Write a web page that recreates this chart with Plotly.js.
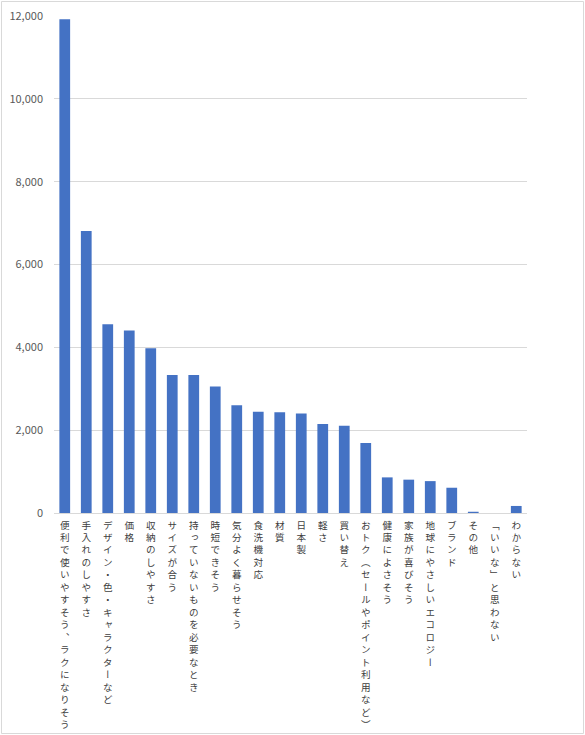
<!DOCTYPE html>
<html>
<head>
<meta charset="utf-8">
<script src="https://cdn.plot.ly/plotly-3.0.1.min.js"></script>
<style>
  body { margin: 0; background: #fff; }
  #myDiv { width: 585px; height: 735px; }
  /* vertical glyph forms for the upright labels */
  .xtick text { font-feature-settings: "vert" 1; }
</style>
</head>
<body>
<div id="myDiv"></div>
<script>
// categories, in chart order
const categories = [
  '便利で使いやすそう、ラクになりそう',
  '手入れのしやすさ',
  'デザイン・色・キャラクターなど',
  '価格',
  '収納のしやすさ',
  'サイズが合う',
  '持っていないものを必要なとき',
  '時短できそう',
  '気分よく暮らせそう',
  '食洗機対応',
  '材質',
  '日本製',
  '軽さ',
  '買い替え',
  'おトク（セールやポイント利用など）',
  '健康によさそう',
  '家族が喜びそう',
  '地球にやさしいエコロジー',
  'ブランド',
  'その他',
  '「いいな」と思わない',
  'わからない'
];

// counts
const counts = [
  11920, 6810, 4560, 4405, 3980, 3330, 3330, 3055, 2600, 2445, 2430,
  2405, 2150, 2105, 1690, 860, 805, 770, 610, 30, 0, 170
];

const yTicks = [0, 2000, 4000, 6000, 8000, 10000, 12000];

// one character per line so the labels read top to bottom
const verticalText = categories.map(s => Array.from(s).join('<br>'));

var data = [{
    x: categories,
    y: counts,
    type: 'bar',
    marker: { color: '#4472C4' },
    hoverinfo: 'x+y'
}];

const W = 585, H = 735;
const m = { l: 54, r: 58, t: 16, b: 222 };
const pw = W - m.l - m.r, ph = H - m.t - m.b;

var layout = {
    width: W,
    height: H,
    margin: m,
    paper_bgcolor: '#fff',
    plot_bgcolor: '#fff',
    bargap: 0.5,
    showlegend: false,
    font: { family: '"Noto Sans CJK JP", "Noto Sans", sans-serif', color: '#595959' },
    xaxis: {
        type: 'category',
        tickvals: categories,
        ticktext: verticalText,
        tickangle: 0,
        tickfont: { size: 9.6, color: '#404040' },
        showline: true,
        linecolor: '#D9D9D9',
        linewidth: 1,
        ticks: '',
        ticklabelstandoff: 3,
        showgrid: false
    },
    yaxis: {
        range: [0, 12000],
        tickvals: yTicks,
        tickformat: ',d',
        tickfont: { size: 11, color: '#595959' },
        gridcolor: '#D9D9D9',
        gridwidth: 1,
        zeroline: false,
        ticks: '',
        ticklabelstandoff: 10
    },
    shapes: [{
        type: 'rect',
        xref: 'paper', yref: 'paper',
        x0: (1.5 - m.l) / pw, x1: (W - 1.5 - m.l) / pw,
        y0: -(m.b - 1.5) / ph, y1: (ph + m.t - 1.5) / ph,
        line: { color: '#D9D9D9', width: 1 },
        layer: 'below'
    }]
};

Plotly.newPlot('myDiv', data, layout, { displayModeBar: false, staticPlot: true });
</script>
</body>
</html>
